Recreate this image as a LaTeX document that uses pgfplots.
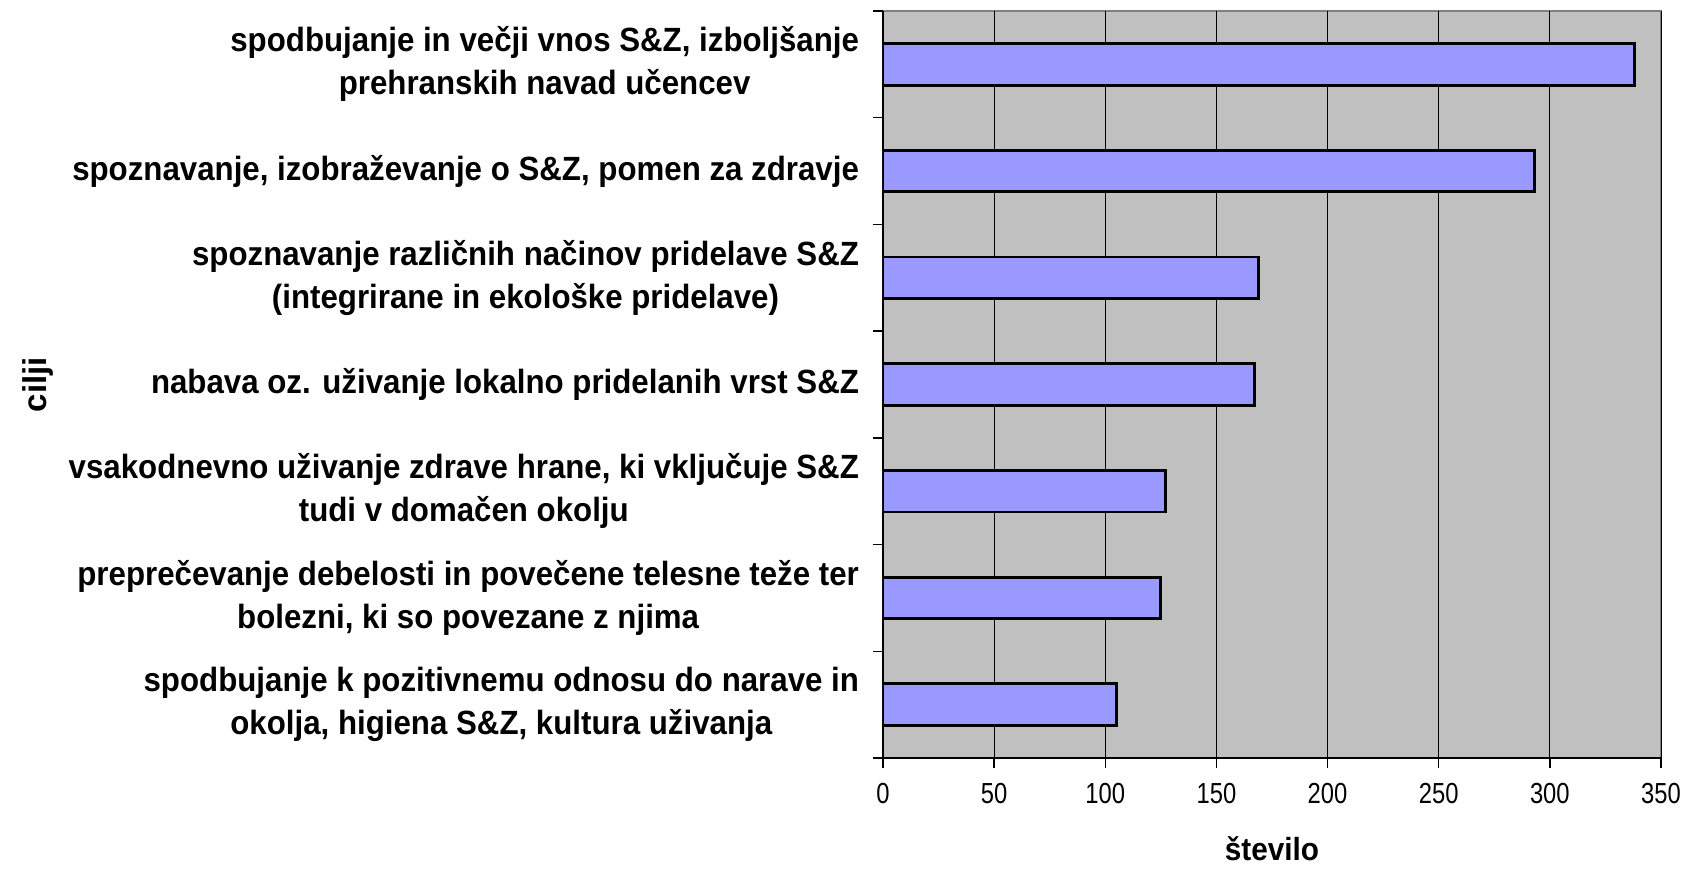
\documentclass[border=0pt]{standalone}
\usepackage{fontspec}
\setmainfont{Liberation Sans}
\newfontfamily\tickfont[FakeStretch=0.82]{Liberation Sans}
\newfontfamily\labfont[FakeStretch=0.93]{Liberation Sans}
\usepackage{pgfplots}
\pgfplotsset{compat=1.18}
\definecolor{barfill}{HTML}{9999FF}
\definecolor{plotbg}{HTML}{C0C0C0}
\definecolor{frameg}{HTML}{808080}
\begin{document}
\begin{tikzpicture}
\begin{axis}[
  scale only axis, width=389pt, height=373.5pt,
  xmin=0, xmax=350, ymin=-0.5, ymax=6.5,
  xbar, bar width=0.39,
  axis lines=left,
  axis line style={-, black, line width=0.8pt},
  axis background/.style={fill=plotbg, draw=frameg, line width=0.8pt},
  xmajorgrids, grid style={black, line width=0.5pt},
  xtick={0,50,...,350},
  minor xtick={0,50,...,350},
  ytick={0,...,6},
  minor ytick={-0.5,0.5,...,6.5},
  major tick length=0pt, minor tick length=5pt,
  tick align=outside,
  minor tick style={black, line width=0.7pt},
  /pgf/number format/assume math mode=true,
  xticklabel style={font=\tickfont\fontsize{14.5}{16}\selectfont, yshift=-9pt},
  yticklabels={
    {spodbujanje k pozitivnemu odnosu do narave in\\okolja, higiena S\&Z, kultura uživanja},
    {preprečevanje debelosti in povečene telesne teže ter\\bolezni, ki so povezane z njima},
    {vsakodnevno uživanje zdrave hrane, ki vključuje S\&Z\\tudi v domačen okolju},
    {nabava oz. uživanje lokalno pridelanih vrst S\&Z},
    {spoznavanje različnih načinov pridelave S\&Z\\(integrirane in ekološke pridelave)},
    {spoznavanje, izobraževanje o S\&Z, pomen za zdravje},
    {spodbujanje in večji vnos S\&Z, izboljšanje\\prehranskih navad učencev}
  },
  yticklabel style={font=\labfont\fontsize{16.8}{21.5}\selectfont\bfseries, align=center, anchor=east, xshift=-8.5pt},
  xlabel={število},
  ylabel={cilji},
  xlabel style={font=\labfont\fontsize{16}{17}\selectfont\bfseries, at={(axis description cs:0.5,-0.122)}, anchor=center},
  ylabel style={font=\fontsize{16.5}{18}\selectfont\bfseries, at={(axis description cs:-1.086,0.5)}, anchor=center, rotate=0},
]
\addplot[fill=barfill, draw=black, line width=1.4pt] coordinates {
  (105,0) (125,1) (127,2) (167,3) (169,4) (293,5) (338,6)
};
\coordinate (O) at (rel axis cs:0,0);
\coordinate (T) at (rel axis cs:1,1);
\end{axis}
\pgfresetboundingbox
\path (O) ++(-441.5pt,-55pt) rectangle ([shift={(11.5pt,5.5pt)}]T);
\end{tikzpicture}
\end{document}
